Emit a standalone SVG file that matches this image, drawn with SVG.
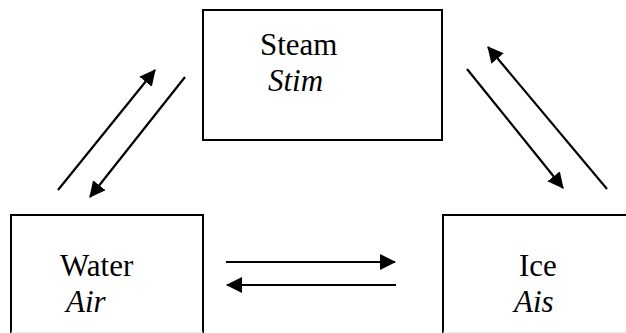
<svg xmlns="http://www.w3.org/2000/svg" width="626" height="333" viewBox="0 0 626 333">
<style>
.box{fill:none;stroke:#000;stroke-width:2}
.faint{stroke:#e8e8e8;stroke-width:1}
.t{font-family:'Liberation Serif','Times New Roman','DejaVu Serif',serif;font-size:31px;fill:#000}
.i{font-style:italic}
.c line{stroke:#000;stroke-width:2.2}
</style>
<defs>
<marker id="ah" viewBox="0 0 16 16" refX="15" refY="8" markerWidth="16" markerHeight="16" markerUnits="userSpaceOnUse" orient="auto">
<path d="M0,0 L16,8 L0,16 Z" fill="#000"/>
</marker>
</defs>
<rect width="626" height="333" fill="#fff"/>
<g id="steam">
<rect class="box" x="203" y="10" width="239" height="130"/>
<text class="t" x="260" y="55" font-family="Liberation Serif, serif">Steam</text>
<text class="t i" x="268" y="91" font-family="Liberation Serif, serif">Stim</text>
</g>
<g id="water">
<path class="box" d="M11,333 V215 H203 V333"/>
<line class="faint" x1="11" y1="332" x2="203" y2="332"/>
<text class="t" x="60" y="276" font-family="Liberation Serif, serif">Water</text>
<text class="t i" x="66" y="312" font-family="Liberation Serif, serif">Air</text>
</g>
<g id="ice">
<path class="box" d="M626,215 H443 V333"/>
<line class="faint" x1="443" y1="332" x2="626" y2="332"/>
<text class="t" x="519" y="276" font-family="Liberation Serif, serif">Ice</text>
<text class="t i" x="514" y="312" font-family="Liberation Serif, serif">Ais</text>
</g>
<g id="connectors" class="c">
<line x1="58" y1="190" x2="155" y2="70" marker-end="url(#ah)"/>
<line x1="185" y1="77" x2="90" y2="197" marker-end="url(#ah)"/>
<line x1="467" y1="69" x2="563" y2="188" marker-end="url(#ah)"/>
<line x1="607" y1="189" x2="488" y2="47" marker-end="url(#ah)"/>
<line x1="226" y1="262" x2="395" y2="262" marker-end="url(#ah)"/>
<line x1="396" y1="285" x2="227" y2="285" marker-end="url(#ah)"/>
</g>
</svg>
